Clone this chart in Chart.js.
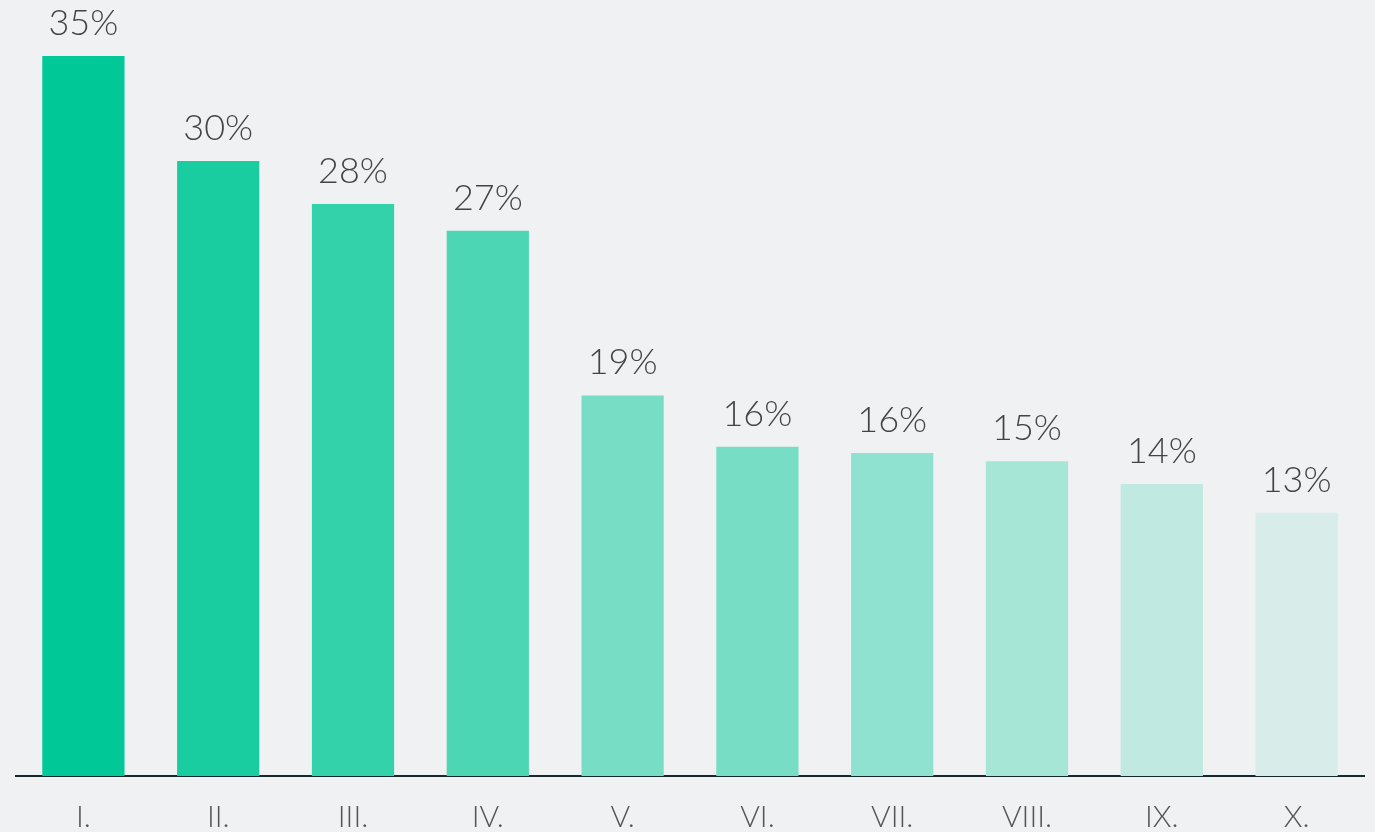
<!DOCTYPE html>
<html>
<head>
<meta charset="utf-8">
<script src="https://cdn.jsdelivr.net/npm/chart.js@4.4.1/dist/chart.umd.min.js"></script>
<style>
  html, body { margin: 0; padding: 0; background: #F0F1F3; }
  #wrap { width: 1375px; height: 832px; position: relative; }
  canvas { display: block; }
</style>
</head>
<body>
<div id="wrap"><canvas id="c" width="1375" height="832"></canvas></div>
<script>
const categories = ['I.', 'II.', 'III.', 'IV.', 'V.', 'VI.', 'VII.', 'VIII.', 'IX.', 'X.'];
const values = [35, 29.9, 27.8, 26.5, 18.5, 16.0, 15.7, 15.3, 14.2, 12.8];
const valueLabels = ['35%', '30%', '28%', '27%', '19%', '16%', '16%', '15%', '14%', '13%'];
const barColors = ['#00C896', '#1ACDA0', '#33D2AB', '#4CD6B4', '#77DDC5', '#77DDC5', '#8FE2CF', '#A6E6D6', '#C0E9E1', '#D8ECE9'];

const labelPlugin = {
  id: 'valueLabels',
  afterDatasetsDraw(chart) {
    const ctx = chart.ctx;
    const meta = chart.getDatasetMeta(0);
    ctx.save();
    ctx.font = '300 36px Lato, "Open Sans", sans-serif';
    ctx.fillStyle = '#444444';
    ctx.textAlign = 'center';
    ctx.textBaseline = 'alphabetic';
    meta.data.forEach((bar, i) => {
      ctx.fillText(valueLabels[i], bar.x, bar.y - 21);
    });
    ctx.restore();
  }
};

new Chart(document.getElementById('c'), {
  type: 'bar',
  data: {
    labels: categories,
    datasets: [{
      data: values,
      backgroundColor: barColors,
      borderWidth: 0,
      barPercentage: 0.61,
      categoryPercentage: 1.0
    }]
  },
  options: {
    responsive: false,
    animation: false,
    devicePixelRatio: 1,
    layout: { padding: { top: 56, left: 16, right: 11, bottom: -26 } },
    plugins: { legend: { display: false }, tooltip: { enabled: false } },
    scales: {
      y: {
        display: false,
        min: 0,
        max: 35
      },
      x: {
        grid: { display: false, drawTicks: false, tickLength: 0 },
        border: { display: true, color: '#17292A', width: 2 },
        ticks: {
          color: '#555555',
          padding: 23,
          font: { family: 'Lato, "Open Sans", sans-serif', size: 30, weight: '300', lineHeight: 1.2 }
        }
      }
    }
  },
  plugins: [labelPlugin]
});
</script>
</body>
</html>
